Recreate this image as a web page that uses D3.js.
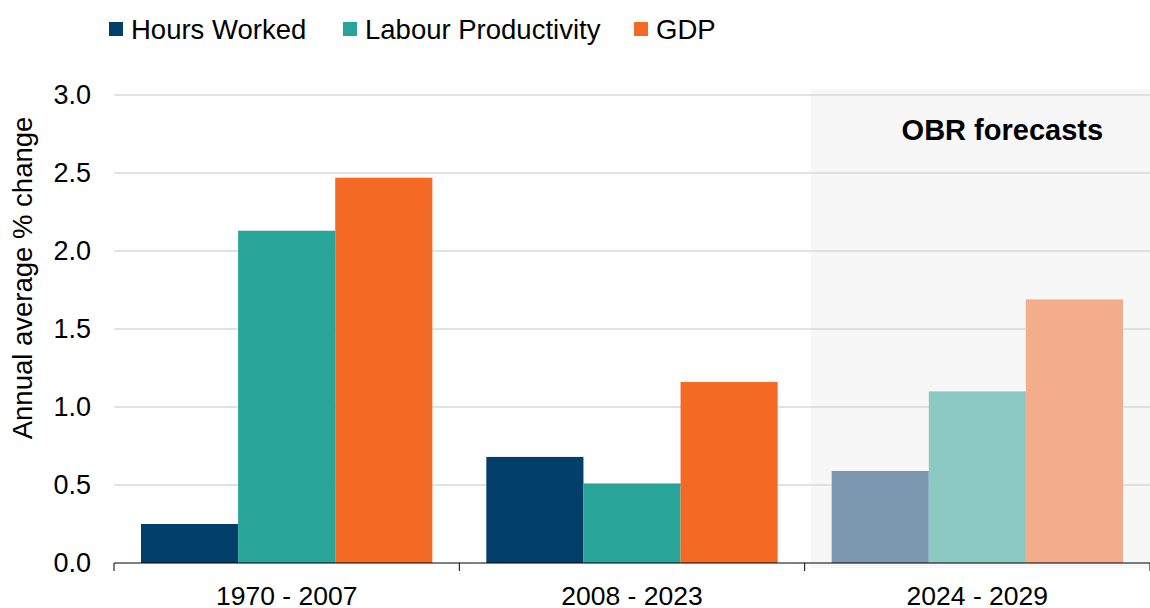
<!DOCTYPE html>
<html lang="en">
  <head>
    <meta charset="utf-8">
    <title>Hours, productivity and GDP</title>
    <script src="https://d3js.org/d3.v7.min.js"></script>
    <style>
      body { margin: 0; background: #fff; }
      text { font-family: "Liberation Sans", Arial, sans-serif; }
    </style>
  </head>
  <body>
    <script type="text/javascript">

    var periods = ["1970 - 2007", "2008 - 2023", "2024 - 2029"];
    var series = ["Hours Worked", "Labour Productivity", "GDP"];
    var hoursWorked = [0.25, 0.68, 0.59];
    var labourProductivity = [2.13, 0.51, 1.10];
    var gdp = [2.47, 1.16, 1.69];
    var yTicks = [0, 0.5, 1, 1.5, 2, 2.5, 3];
    var forecastPeriod = "2024 - 2029";

    var colours = ["#023F6B", "#29A498", "#F46A25"];
    var lightColours = ["#7B98B0", "#8DC9C3", "#F2AD8B"];

    var w = 1150, h = 608;
    var margin = {top: 95, right: 0, bottom: 45, left: 114};
    var innerWidth = w - margin.left - margin.right;
    var innerHeight = h - margin.top - margin.bottom;

    var svg = d3.select("body").append("svg")
        .attr("width", w)
        .attr("height", h);

    var values = [hoursWorked, labourProductivity, gdp];
    var rows = [];
    periods.forEach(function(p, i) {
      series.forEach(function(s, j) {
        rows.push({period: p, series: s, idx: j, value: values[j][i]});
      });
    });

    var x0 = d3.scaleBand().domain(periods).range([0, innerWidth]).paddingInner(0).paddingOuter(0);
    var x1 = d3.scaleBand().domain(series).range([27, x0.bandwidth() - 27]);
    var y = d3.scaleLinear().domain([0, 3]).range([innerHeight, 0]);

    var g = svg.append("g").attr("transform", "translate(" + margin.left + "," + margin.top + ")");

    // forecast shading
    g.append("rect")
      .attr("x", x0(forecastPeriod) + 6)
      .attr("y", -6)
      .attr("width", x0.bandwidth())
      .attr("height", innerHeight + 11)
      .attr("fill", "#F7F7F7");

    g.append("text")
      .attr("x", x0(forecastPeriod) + x0.bandwidth() / 2 + 25)
      .attr("y", 45)
      .attr("text-anchor", "middle")
      .attr("font-size", 29)
      .attr("font-weight", "bold")
      .text("OBR forecasts");

    // gridlines
    g.selectAll(".grid")
      .data(yTicks.filter(function(d) { return d > 0; }))
      .enter().append("line")
      .attr("x1", 0).attr("x2", innerWidth)
      .attr("y1", d => y(d)).attr("y2", d => y(d))
      .attr("stroke", "#D9D9D9")
      .attr("stroke-width", 1.5);

    g.selectAll(".bar")
      .data(rows)
      .enter().append("rect")
      .attr("x", d => x0(d.period) + x1(d.series))
      .attr("y", d => y(d.value))
      .attr("width", x1.bandwidth())
      .attr("height", d => y(0) - y(d.value))
      .attr("fill", d => d.period === forecastPeriod ? lightColours[d.idx] : colours[d.idx]);

    // y axis labels
    var yAxis = d3.axisLeft(y).tickValues(yTicks).tickFormat(d3.format(".1f")).tickSize(0).tickPadding(23);
    var ya = g.append("g").call(yAxis);
    ya.select(".domain").remove();
    ya.selectAll("text").attr("font-size", 27).attr("fill", "#000")
      .style("font-family", "'Liberation Sans', Arial, sans-serif");

    // x axis
    var xa = g.append("g").attr("transform", "translate(0," + innerHeight + ")");
    xa.append("line").attr("x1", 0).attr("x2", innerWidth).attr("stroke", "#000").attr("stroke-width", 1);
    var edges = periods.map(p => x0(p)).concat([innerWidth]);
    xa.selectAll(".tk").data(edges).enter().append("line")
      .attr("x1", d => d).attr("x2", d => d)
      .attr("y1", 0).attr("y2", 8)
      .attr("stroke", "#000");
    xa.selectAll(".lbl").data(periods).enter().append("text")
      .attr("x", d => x0(d) + x0.bandwidth() / 2)
      .attr("y", 42)
      .attr("text-anchor", "middle")
      .attr("font-size", 26.5)
      .text(d => d);

    // y title
    svg.append("text")
      .attr("transform", "translate(32,278) rotate(-90)")
      .attr("text-anchor", "middle")
      .attr("font-size", 27.5)
      .text("Annual average % change");

    // legend
    var legX = [109, 343, 634];
    var leg = svg.selectAll(".leg").data(series).enter().append("g")
      .attr("transform", (d, i) => "translate(" + legX[i] + ",0)");
    leg.append("rect").attr("x", 0).attr("y", 22).attr("width", 14).attr("height", 14)
      .attr("fill", (d, i) => colours[i]);
    leg.append("text").attr("x", 22).attr("y", 39).attr("font-size", 27.5).text(d => d);

    </script>
  </body>
</html>
